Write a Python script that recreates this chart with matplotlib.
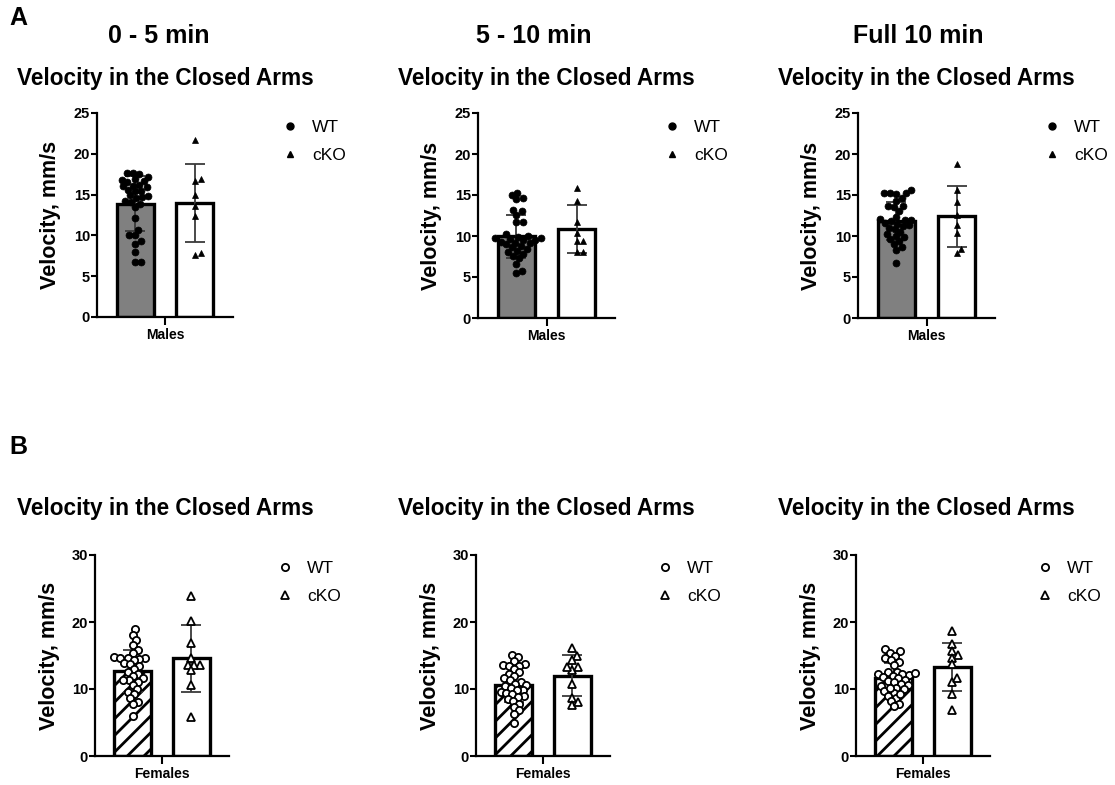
import matplotlib.pyplot as plt
import numpy as np
from matplotlib.lines import Line2D

plt.rcParams['font.family'] = ['Liberation Sans', 'DejaVu Sans']
plt.rcParams['hatch.linewidth'] = 2.0

# velocity in the closed arms, mm/s
m_wt_0_5 = [17.7, 17.7, 17.5, 17.2, 16.9, 16.8, 16.7, 16.5, 16.2, 16.1, 16.0, 15.9, 15.6,
            15.5, 15.4, 14.9, 14.8, 14.7, 14.6, 14.2, 14.1, 13.9, 13.5, 12.1, 10.7, 10.0,
            10.0, 9.3, 9.0, 8.0, 6.7, 6.7]
m_ko_0_5 = [21.7, 16.9, 16.7, 14.9, 13.6, 12.4, 7.6, 7.8]
m_wt_5_10 = [15.3, 15.0, 14.6, 14.5, 13.2, 13.0, 12.6, 11.7, 11.7, 10.2, 9.9, 9.7, 9.5, 10.0,
             9.8, 9.6, 9.5, 9.3, 9.2, 9.0, 8.8, 8.6, 8.4, 8.0, 7.8, 7.3, 6.6, 5.7, 5.5, 8.2,
             7.6, 9.1]
m_ko_5_10 = [15.9, 14.3, 11.7, 10.4, 9.35, 9.35, 8.0, 8.0]
m_wt_full = [15.6, 15.3, 15.2, 15.2, 15.1, 14.6, 14.3, 13.7, 13.6, 13.5, 13.0, 11.9, 11.6,
             11.2, 12.3, 12.1, 12.0, 11.8, 11.5, 11.3, 11.0, 10.8, 10.5, 10.2, 9.9, 9.6, 9.4,
             9.0, 8.6, 8.3, 6.7, 10.0]
m_ko_full = [18.8, 15.6, 14.2, 12.6, 11.4, 10.4, 7.9, 8.4]

f_wt_0_5 = [18.9, 18.1, 17.3, 16.6, 15.8, 15.3, 14.8, 14.6, 14.6, 14.6, 14.5, 14.4, 13.9,
            13.7, 13.4, 13.0, 12.6, 12.3, 12.0, 11.6, 11.3, 11.3, 11.1, 10.6, 10.0, 9.5, 9.3,
            8.6, 8.1, 7.8, 5.9]
f_ko_0_5 = [23.9, 20.2, 16.9, 14.7, 13.6, 13.6, 13.6, 12.8, 10.6, 5.8]
f_wt_5_10 = [15.1, 14.8, 14.2, 13.7, 13.6, 13.5, 13.4, 13.0, 12.5, 12.2, 11.9, 11.6, 11.3,
             11.0, 10.8, 10.6, 10.4, 10.1, 9.9, 9.8, 9.6, 9.4, 9.2, 9.0, 8.8, 8.5, 8.2, 7.8,
             7.3, 6.8, 6.3, 5.0]
f_ko_5_10 = [16.1, 14.9, 14.3, 13.3, 12.9, 13.3, 10.7, 8.6, 7.6, 8.0]
f_wt_full = [15.9, 15.6, 15.4, 15.0, 14.6, 14.4, 14.0, 13.6, 12.3, 12.1, 12.6, 12.6, 12.4,
             12.2, 12.0, 11.8, 11.6, 11.4, 11.2, 11.0, 10.8, 10.6, 10.4, 10.2, 10.0, 9.7, 9.4,
             9.0, 8.6, 8.2, 7.8, 7.4, 10.2, 9.3]
f_ko_full = [18.6, 16.7, 15.6, 15.1, 14.7, 13.8, 11.1, 11.6, 9.3, 6.9]

periods = ['0 - 5 min', '5 - 10 min', 'Full 10 min']
groups = ['WT', 'cKO']
males = [(m_wt_0_5, m_ko_0_5), (m_wt_5_10, m_ko_5_10), (m_wt_full, m_ko_full)]
females = [(f_wt_0_5, f_ko_0_5), (f_wt_5_10, f_ko_5_10), (f_wt_full, f_ko_full)]

W, H = 1115, 785


def fx(px):
    return px / W


def fy(py):
    return 1 - py / H


def swarm(ax, x0, vals, d):
    # simple beeswarm in pixel space
    pts = ax.transData.transform([(x0, v) for v in vals])
    placed = []
    off = np.zeros(len(vals))
    for i in np.argsort(vals):
        y = pts[i, 1]
        cands = [0.0]
        for px, py in placed:
            dy = y - py
            if abs(dy) < d:
                dx = np.sqrt(d ** 2 - dy ** 2)
                cands += [px + dx, px - dx]
        cands.sort(key=abs)
        for c in cands:
            if all((c - px) ** 2 + (y - py) ** 2 >= d ** 2 - 1e-6 for px, py in placed):
                break
        placed.append((c, y))
        off[i] = c
    disp = np.column_stack([pts[:, 0] + off, pts[:, 1]])
    return ax.transData.inverted().transform(disp)[:, 0]


fig = plt.figure(figsize=(W / 100, H / 100), dpi=100)

rows = [
    dict(data=males, rects=[(97, 113, 233, 317), (478, 113, 615, 318), (858, 113, 995, 318)],
         ymax=25, yticks=[0, 5, 10, 15, 20, 25], xlabel='Males', open_=False,
         leg_x=[281, 663, 1043], leg_y=120, title_y=79),
    dict(data=females, rects=[(95, 555, 229, 756), (476, 555, 610, 756), (856, 555, 990, 756)],
         ymax=30, yticks=[0, 10, 20, 30], xlabel='Females', open_=True,
         leg_x=[276, 656, 1036], leg_y=561, title_y=508),
]
title_x = [17, 398, 778]

for row in rows:
    for k, (wt, ko) in enumerate(row['data']):
        l, t, r, b = row['rects'][k]
        ax = fig.add_axes([fx(l), fy(b), fx(r - l), (b - t) / H])
        ax.set_xlim(-0.64, 1.64)
        ax.set_ylim(0, row['ymax'])
        for s in ['top', 'right']:
            ax.spines[s].set_visible(False)
        for s in ['left', 'bottom']:
            ax.spines[s].set_linewidth(1.6)
        ax.set_yticks(row['yticks'])
        ax.set_xticks([0.5])
        ax.set_xticklabels([row['xlabel']], fontsize=10, fontweight='bold')
        ax.tick_params(axis='y', length=4, width=1.5, pad=1, labelsize=10.5)
        ax.tick_params(axis='x', length=6, width=1.5, pad=2)
        for lab in ax.get_yticklabels():
            lab.set_fontweight('bold')
        ax.set_ylabel('Velocity, mm/s', fontsize=15.5, fontweight='bold', va='center')
        ax.yaxis.set_label_coords(-0.34, 0.5)

        for x0, vals in enumerate([wt, ko]):
            vals = np.array(vals)
            m, sd = vals.mean(), vals.std(ddof=1)
            if row['open_']:
                face = 'white'
                hatch = '//' if x0 == 0 else None
            else:
                face = '#808080' if x0 == 0 else 'white'
                hatch = None
            ax.bar([x0], [m], width=0.62, color=face, edgecolor='black', linewidth=2.4,
                   hatch=hatch, zorder=2)
            ax.errorbar([x0], [m], yerr=[sd], color='#3a3a3a', lw=1.3, capsize=7,
                        capthick=1.3, zorder=3)
            marker = 'o' if x0 == 0 else '^'
            if row['open_']:
                ms, mew, fc = 5.2, 1.3, 'white'
                d = 6.0
            else:
                ms, mew, fc = 5.0, 0.5, 'black'
                d = 6.2
            xs = swarm(ax, x0, vals, d)
            ax.plot(xs, vals, ls='none', marker=marker, ms=ms, mfc=fc, mec='black', mew=mew,
                    zorder=4, clip_on=False)

        if row['open_']:
            handles = [Line2D([], [], ls='none', marker='o', ms=5.2, mfc='white', mec='black', mew=1.3),
                       Line2D([], [], ls='none', marker='^', ms=5.2, mfc='white', mec='black', mew=1.3)]
        else:
            handles = [Line2D([], [], ls='none', marker='o', ms=5.0, color='black'),
                       Line2D([], [], ls='none', marker='^', ms=4.2, color='black')]
        fig.legend(handles, groups, loc='upper left', frameon=False, fontsize=12.5,
                   bbox_to_anchor=(fx(row['leg_x'][k]), fy(row['leg_y'])),
                   borderpad=0, borderaxespad=0, handlelength=1.0, handletextpad=0.8,
                   labelspacing=0.72)

        fig.text(fx(title_x[k]), fy(row['title_y']), 'Velocity in the Closed Arms',
                 fontsize=16.3, fontweight='bold', ha='left', va='center')

for k, p in enumerate(periods):
    fig.text(fx([159, 534, 918][k]), fy(36), p, fontsize=18, fontweight='bold',
             ha='center', va='center')

fig.text(fx(9), fy(18), 'A', fontsize=18, fontweight='bold', ha='left', va='center')
fig.text(fx(9), fy(447), 'B', fontsize=18, fontweight='bold', ha='left', va='center')

fig.savefig('out.png', dpi=100)
